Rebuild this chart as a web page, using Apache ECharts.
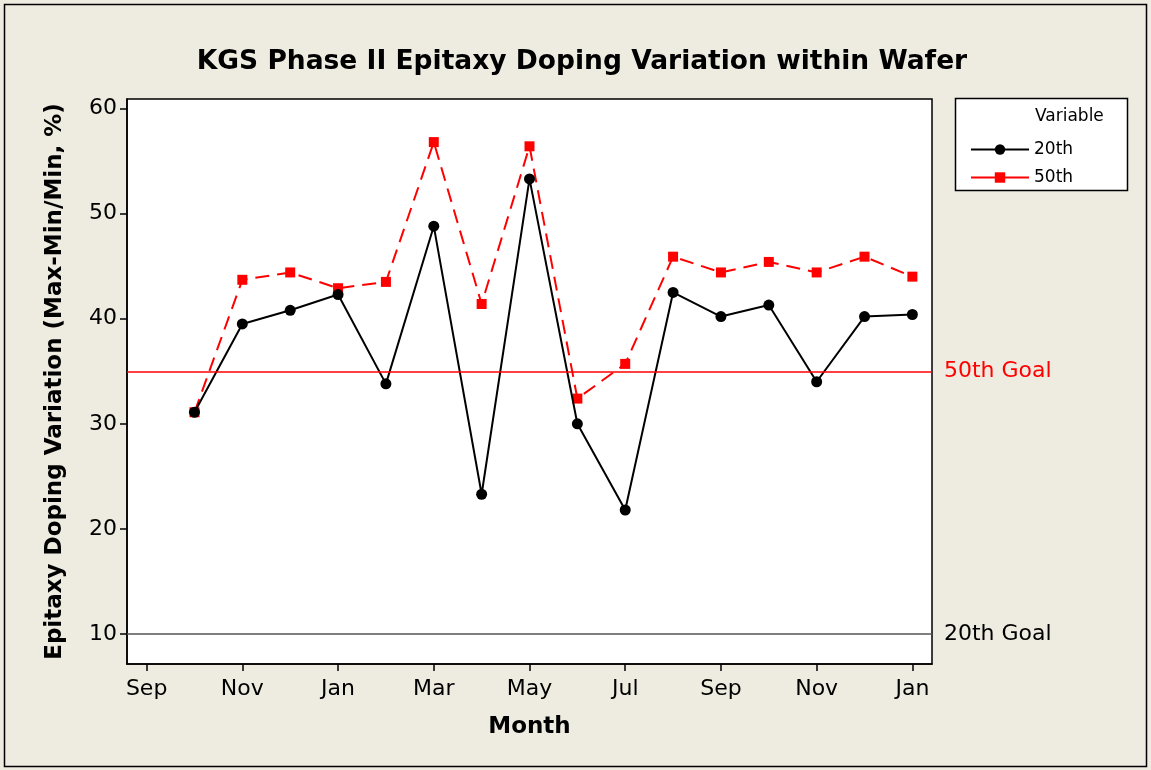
<!DOCTYPE html>
<html><head><meta charset="utf-8">
<script src="https://cdn.jsdelivr.net/npm/echarts@6/dist/echarts.min.js"></script>
<style>html,body{margin:0;padding:0;background:#EEEBE0;}#c{width:1151px;height:770px;}</style>
</head><body><div id="c"></div>
<script>
// Month index: 0 = Sep (first year), 16 = Jan (two years later)
const monthNames = ['Sep','Oct','Nov','Dec','Jan','Feb','Mar','Apr','May','Jun','Jul','Aug'];
const xIndex = [1,2,3,4,5,6,7,8,9,10,11,12,13,14,15,16];
const xTicks = [0,2,4,6,8,10,12,14,16];
const yTicks = [10,20,30,40,50,60];
const s20 = [31.1,39.5,40.8,42.3,33.8,48.8,23.3,53.3,30.0,21.8,42.5,40.2,41.3,34.0,40.2,40.4];
const s50 = [31.1,43.7,44.4,42.9,43.5,56.8,41.4,56.4,32.4,35.7,45.9,44.4,45.4,44.4,45.9,44.0];
const goal50 = 35;
const goal20 = 10;

const font = 'Tahoma, "DejaVu Sans", sans-serif';
const chart = echarts.init(document.getElementById('c'));
chart.setOption({
  backgroundColor: '#EEEBE0',
  animation: false,
  title: {
    text: 'KGS Phase II Epitaxy Doping Variation within Wafer',
    left: 577, top: 44, textAlign: 'center',
    textStyle: {fontFamily: font, fontSize: 26.5, fontWeight: 'bold', color: '#000'}
  },
  graphic: [
    {type:'rect', shape:{x:4.5,y:4.5,width:1142,height:762}, style:{fill:'none', stroke:'#000', lineWidth:1.5}, z:-1},
    {type:'rect', shape:{x:955.5,y:98.5,width:172,height:92}, style:{fill:'#fff', stroke:'#000', lineWidth:1.5}, z:1},
    {type:'text', left:1035, top:108, style:{text:'Variable', fontFamily:font, fontSize:17, fill:'#000'}, z:2}
  ],
  legend: {
    left: 965, top: 136, orient: 'vertical', itemGap: 11, itemWidth: 58, itemHeight: 13,
    textStyle: {fontFamily: font, fontSize: 17, color: '#000'},
    data: ['20th', {name:'50th', lineStyle:{type:'solid'}}], z: 3
  },
  grid: {left: 127, right: 219, top: 99, bottom: 106, show: true, backgroundColor: '#fff', borderColor: '#000', borderWidth: 1.5},
  xAxis: {
    type: 'value', min: -0.41, max: 16.41,
    name: 'Month', nameLocation: 'middle', nameGap: 52,
    nameTextStyle: {fontFamily: font, fontSize: 23, fontWeight: 'bold', color: '#000'},
    axisLine: {show: true, onZero: false, lineStyle: {color: '#000', width: 1.5}},
    axisTick: {show: true, customValues: xTicks, length: 7, lineStyle: {color: '#000', width: 1.5}},
    axisLabel: {customValues: xTicks, formatter: v => monthNames[((Math.round(v) % 12) + 12) % 12],
      fontFamily: font, fontSize: 22, color: '#000', margin: 14},
    splitLine: {show: false}
  },
  yAxis: {
    type: 'value', min: 7.15, max: 60.9,
    name: 'Epitaxy Doping Variation (Max-Min/Min, %)', nameLocation: 'middle', nameGap: 60,
    nameTextStyle: {fontFamily: font, fontSize: 23, fontWeight: 'bold', color: '#000'},
    axisLine: {show: true, onZero: false, lineStyle: {color: '#000', width: 1.5}},
    axisTick: {show: true, customValues: yTicks, length: 7, lineStyle: {color: '#000', width: 1.5}},
    axisLabel: {customValues: yTicks, fontFamily: font, fontSize: 22, color: '#000', margin: 10},
    splitLine: {show: false}
  },
  series: [
    {
      name: '20th', type: 'line', data: xIndex.map((x,i)=>[x,s20[i]]),
      symbol: 'circle', symbolSize: 11, color: '#000',
      lineStyle: {color:'#000', width: 2}, itemStyle: {color:'#000'}, z: 3,
      markLine: {
        silent: true, symbol: 'none',
        data: [{yAxis: goal20}],
        lineStyle: {color: '#555', width: 1.5, type: 'solid'},
        label: {show: true, position: 'end', formatter: '20th Goal', distance: 12,
          fontFamily: font, fontSize: 22, color: '#000'}
      }
    },
    {
      name: '50th', type: 'line', data: xIndex.map((x,i)=>[x,s50[i]]),
      symbol: 'rect', symbolSize: 10, color: '#f00',
      lineStyle: {color:'#f00', width: 2, type: [14,8]}, itemStyle: {color:'#f00'}, z: 2,
      markLine: {
        silent: true, symbol: 'none',
        data: [{yAxis: goal50}],
        lineStyle: {color: '#f00', width: 1.5, type: 'solid'},
        label: {show: true, position: 'end', formatter: '50th Goal', distance: 12,
          fontFamily: font, fontSize: 22, color: '#f00'}
      }
    }
  ]
});
</script></body></html>
